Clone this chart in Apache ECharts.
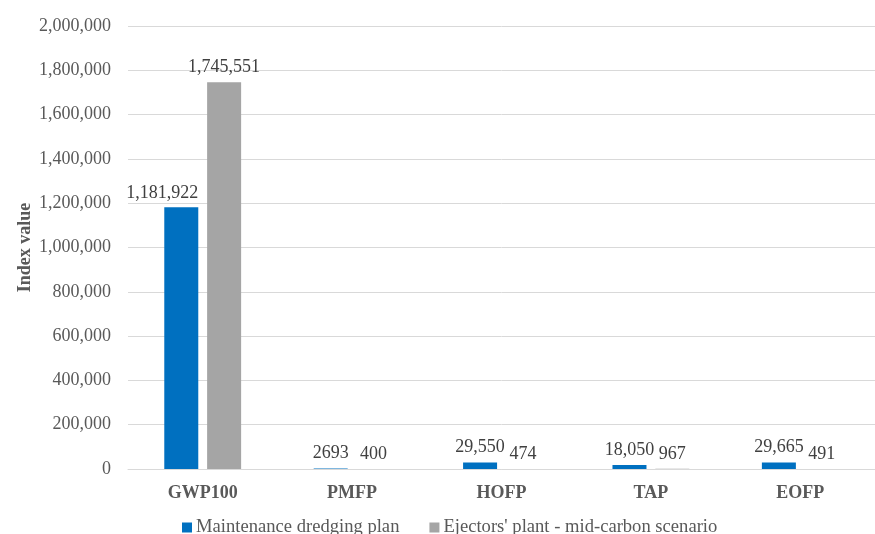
<!DOCTYPE html>
<html>
<head>
<meta charset="utf-8">
<script src="https://cdn.jsdelivr.net/npm/echarts@6/dist/echarts.min.js"></script>
<style>
  html, body { margin: 0; padding: 0; background: #fff; }
  #chart { width: 875px; height: 534px; }
</style>
</head>
<body>
<div id="chart"></div>
<script>
// Impact categories on the x axis
const categories = ['GWP100', 'PMFP', 'HOFP', 'TAP', 'EOFP'];
// Index values per scenario
const maintenanceValues = [1181922, 2693, 29550, 18050, 29665];
const ejectorsValues = [1745551, 400, 474, 967, 491];
const seriesNames = ['Maintenance dredging plan', "Ejectors' plant - mid-carbon scenario"];

const FONT = '"Liberation Serif", "Times New Roman", serif';
const TEXT = '#595959';
const LABEL = '#404040';

function fmtLabel(v) {
  return v >= 10000 ? v.toLocaleString('en-US') : String(v);
}

// The tall GWP100 label of the first series is nudged left so it clears the neighbouring bar
const maintenanceData = maintenanceValues.map((v, i) =>
  i === 0 ? { value: v, label: { offset: [-19, 1] } } : v
);

const chart = echarts.init(document.getElementById('chart'));
chart.setOption({
  animation: false,
  textStyle: { fontFamily: FONT },
  grid: { left: 128, top: 26, width: 755, bottom: 65, containLabel: false },
  legend: {
    data: seriesNames,
    top: 513,
    left: 177,
    icon: 'rect',
    itemWidth: 10,
    itemHeight: 10,
    itemGap: 30,
    textStyle: { fontFamily: FONT, fontSize: 18.6, color: TEXT, padding: [0, 0, 0, -1] }
  },
  xAxis: {
    type: 'category',
    data: categories,
    axisLine: { lineStyle: { color: '#D9D9D9', width: 1 } },
    axisTick: { show: false },
    axisLabel: { fontFamily: FONT, fontSize: 18, fontWeight: 'bold', color: TEXT, margin: 15 }
  },
  yAxis: {
    type: 'value',
    min: 0,
    max: 2000000,
    interval: 200000,
    name: 'Index value',
    nameLocation: 'middle',
    nameGap: 94,
    nameMoveOverlap: false,
    nameTextStyle: { fontFamily: FONT, fontSize: 18, fontWeight: 'bold', color: TEXT },
    axisLine: { show: false },
    axisTick: { show: false },
    splitLine: { lineStyle: { color: '#D9D9D9', width: 1 } },
    axisLabel: {
      fontFamily: FONT, fontSize: 18, color: TEXT, margin: 17,
      formatter: v => v.toLocaleString('en-US')
    }
  },
  series: [
    {
      name: seriesNames[0],
      type: 'bar',
      data: maintenanceData,
      barWidth: 34,
      barGap: '26%',
      itemStyle: { color: '#0070C0' },
      label: {
        show: true, position: 'top', distance: 6,
        fontFamily: FONT, fontSize: 18, color: LABEL,
        formatter: p => fmtLabel(p.value)
      }
    },
    {
      name: seriesNames[1],
      type: 'bar',
      data: ejectorsValues,
      barWidth: 34,
      itemStyle: { color: '#A5A5A5' },
      label: {
        show: true, position: 'top', distance: 6,
        fontFamily: FONT, fontSize: 18, color: LABEL,
        formatter: p => fmtLabel(p.value)
      }
    }
  ]
});
</script>
</body>
</html>
